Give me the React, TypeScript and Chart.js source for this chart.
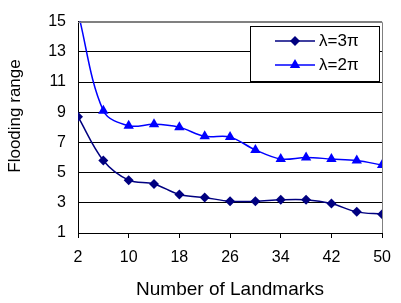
import React, { useEffect, useRef } from "react";
import { Chart, registerables } from "chart.js";

Chart.register(...registerables);

const landmarks = [2, 6, 10, 14, 18, 22, 26, 30, 34, 38, 42, 46, 50];
const lambda3pi = [8.7, 5.8, 4.5, 4.25, 3.55, 3.35, 3.1, 3.1, 3.2, 3.2, 2.95, 2.4, 2.25];
const lambda2pi = [15.6, 9.1, 8.1, 8.2, 8.0, 7.4, 7.35, 6.5, 5.9, 6.0, 5.9, 5.8, 5.5];
const seriesNames = ["λ=3π", "λ=2π"];
const seriesColors = ["#000080", "#0000FF"];
const yTicks = [1, 3, 5, 7, 9, 11, 13, 15];
const xTicks = [2, 10, 18, 26, 34, 42, 50];
const xTitle = "Number of Landmarks";
const yTitle = "Flooding range";

const FONT = "'Liberation Sans', Arial, sans-serif";

const decorPlugin = {
  id: "decor",
  afterDraw(chart: any) {
    const ctx = chart.ctx as CanvasRenderingContext2D;
    const a = chart.chartArea;
    ctx.save();
    // gray top and right frame
    ctx.strokeStyle = "#808080";
    ctx.lineWidth = 1;
    ctx.beginPath();
    ctx.moveTo(a.left, Math.round(a.top) + 0.5);
    ctx.lineTo(Math.round(a.right) + 0.5, Math.round(a.top) + 0.5);
    ctx.lineTo(Math.round(a.right) + 0.5, a.bottom);
    ctx.stroke();

    // y title
    ctx.fillStyle = "#000";
    ctx.font = `17px ${FONT}`;
    ctx.textAlign = "center";
    ctx.textBaseline = "middle";
    ctx.translate(15, 116);
    ctx.rotate(-Math.PI / 2);
    ctx.fillText(yTitle, 0, 0);
    ctx.setTransform(1, 0, 0, 1, 0, 0);

    // legend
    const lx = 250, ly = 26, lw = 129, lh = 55;
    ctx.fillStyle = "#fff";
    ctx.fillRect(lx, ly, lw, lh);
    ctx.strokeStyle = "#000";
    ctx.strokeRect(lx + 0.5, ly + 0.5, lw, lh);
    const rows = [41, 65];
    chart.data.datasets.forEach((ds: any, i: number) => {
      const y = rows[i];
      ctx.strokeStyle = ds.borderColor;
      ctx.lineWidth = 1.5;
      ctx.beginPath();
      ctx.moveTo(275, y);
      ctx.lineTo(315, y);
      ctx.stroke();
      ctx.fillStyle = ds.backgroundColor;
      ctx.beginPath();
      if (ds.pointStyle === "rectRot") {
        const r = 5;
        ctx.moveTo(295, y - r);
        ctx.lineTo(295 + r, y);
        ctx.lineTo(295, y + r);
        ctx.lineTo(295 - r, y);
      } else {
        const r = 6;
        ctx.moveTo(295, y - r);
        ctx.lineTo(295 + r * 0.866, y + r * 0.5);
        ctx.lineTo(295 - r * 0.866, y + r * 0.5);
      }
      ctx.closePath();
      ctx.fill();
      ctx.fillStyle = "#000";
      ctx.font = `17px ${FONT}`;
      ctx.textAlign = "left";
      ctx.textBaseline = "middle";
      ctx.fillText(ds.label, 319, y);
    });
    ctx.restore();
  },
};

export default function App() {
  const ref = useRef<HTMLCanvasElement | null>(null);
  useEffect(() => {
    document.body.style.margin = "0";
    const canvas = ref.current!;
    const chart = new Chart(canvas, {
      type: "line",
      data: {
        datasets: [
          {
            label: seriesNames[0],
            data: landmarks.map((x, i) => ({ x, y: lambda3pi[i] })),
            borderColor: seriesColors[0],
            backgroundColor: seriesColors[0],
            borderWidth: 1.5,
            pointStyle: "rectRot",
            pointRadius: 5,
            pointBorderWidth: 0,
            tension: 0.35,
          },
          {
            label: seriesNames[1],
            data: landmarks.map((x, i) => ({ x, y: lambda2pi[i] })),
            borderColor: seriesColors[1],
            backgroundColor: seriesColors[1],
            borderWidth: 1.5,
            pointStyle: "triangle",
            pointRadius: 6,
            pointBorderWidth: 0,
            tension: 0.35,
          },
        ],
      },
      options: {
        responsive: false,
        animation: false,
        devicePixelRatio: 1,
        layout: { padding: { top: 13, right: 10, left: 0, bottom: 0 } },
        plugins: { legend: { display: false }, tooltip: { enabled: false } },
        scales: {
          x: {
            type: "linear",
            min: 2,
            max: 50,
            afterBuildTicks: (s: any) => {
              s.ticks = xTicks.map((v) => ({ value: v }));
            },
            afterFit: (s: any) => {
              s.height = 70;
            },
            ticks: {
              color: "#000",
              font: { family: FONT, size: 16 },
              padding: 10,
              maxRotation: 0,
            },
            grid: {
              drawOnChartArea: false,
              drawTicks: true,
              tickLength: 5,
              tickColor: "#000",
            },
            border: { color: "#000", width: 1 },
            title: {
              display: true,
              text: xTitle,
              color: "#000",
              font: { family: FONT, size: 19 },
              padding: { top: 0, bottom: 2 },
            },
          },
          y: {
            type: "linear",
            min: 1,
            max: 15,
            afterBuildTicks: (s: any) => {
              s.ticks = yTicks.map((v) => ({ value: v }));
            },
            afterFit: (s: any) => {
              s.width = 78;
            },
            ticks: {
              color: "#000",
              font: { family: FONT, size: 16 },
              padding: 12,
            },
            grid: {
              drawTicks: false,
              color: (c: any) => (c.tick && c.tick.value === 15 ? "#808080" : "#000"),
              lineWidth: 1,
            },
            border: { color: "#000", width: 1 },
          },
        },
      },
      plugins: [decorPlugin],
    } as any);
    return () => chart.destroy();
  }, []);
  return <canvas ref={ref} width={401} height={303} />;
}
